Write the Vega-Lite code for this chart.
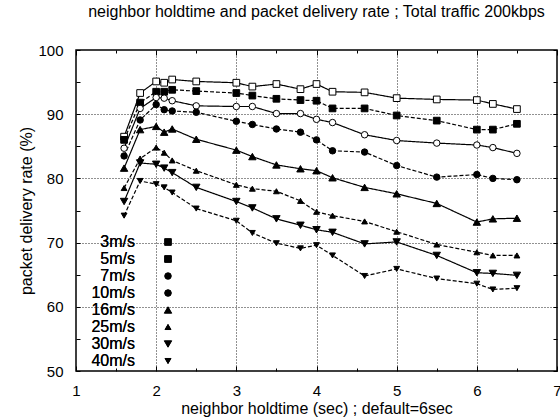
{
  "$schema": "https://vega.github.io/schema/vega-lite/v6.json",
  "autosize": {"type": "none"},
  "padding": {"left": 76, "top": 50, "right": 3, "bottom": 46},
  "width": 481,
  "height": 321,
  "background": "white",
  "title": {"text": "neighbor holdtime and packet delivery rate ; Total traffic 200kbps", "font": "Liberation Sans", "fontSize": 16, "fontWeight": "normal", "color": "black", "anchor": "middle", "frame": "group", "offset": 23},
  "config": {
    "view": {"stroke": "black", "strokeWidth": 1.5},
    "axis": {"labelFont": "Liberation Sans", "titleFont": "Liberation Sans", "labelColor": "black", "titleColor": "black", "tickColor": "black", "titleFontWeight": "normal"}
  },
  "data": {"values": [
    {"speed":"3m/s","holdtime":1.6,"pdr":86.5},{"speed":"3m/s","holdtime":1.8,"pdr":93.3},{"speed":"3m/s","holdtime":2.0,"pdr":95.1},{"speed":"3m/s","holdtime":2.1,"pdr":94.9},{"speed":"3m/s","holdtime":2.2,"pdr":95.4},{"speed":"3m/s","holdtime":2.5,"pdr":95.1},{"speed":"3m/s","holdtime":3.0,"pdr":94.9},{"speed":"3m/s","holdtime":3.2,"pdr":94.3},{"speed":"3m/s","holdtime":3.5,"pdr":94.7},{"speed":"3m/s","holdtime":3.8,"pdr":93.9},{"speed":"3m/s","holdtime":4.0,"pdr":94.7},{"speed":"3m/s","holdtime":4.2,"pdr":93.5},{"speed":"3m/s","holdtime":4.6,"pdr":93.4},{"speed":"3m/s","holdtime":5.0,"pdr":92.5},{"speed":"3m/s","holdtime":5.5,"pdr":92.3},{"speed":"3m/s","holdtime":6.0,"pdr":92.2},{"speed":"3m/s","holdtime":6.2,"pdr":91.6},{"speed":"3m/s","holdtime":6.5,"pdr":90.8},
    {"speed":"5m/s","holdtime":1.6,"pdr":86.0},{"speed":"5m/s","holdtime":1.8,"pdr":91.8},{"speed":"5m/s","holdtime":2.0,"pdr":93.5},{"speed":"5m/s","holdtime":2.1,"pdr":93.5},{"speed":"5m/s","holdtime":2.2,"pdr":93.8},{"speed":"5m/s","holdtime":2.5,"pdr":93.6},{"speed":"5m/s","holdtime":3.0,"pdr":93.3},{"speed":"5m/s","holdtime":3.2,"pdr":92.9},{"speed":"5m/s","holdtime":3.5,"pdr":92.4},{"speed":"5m/s","holdtime":3.8,"pdr":92.2},{"speed":"5m/s","holdtime":4.0,"pdr":92.1},{"speed":"5m/s","holdtime":4.2,"pdr":90.9},{"speed":"5m/s","holdtime":4.6,"pdr":90.9},{"speed":"5m/s","holdtime":5.0,"pdr":89.8},{"speed":"5m/s","holdtime":5.5,"pdr":89.0},{"speed":"5m/s","holdtime":6.0,"pdr":87.6},{"speed":"5m/s","holdtime":6.2,"pdr":87.6},{"speed":"5m/s","holdtime":6.5,"pdr":88.5},
    {"speed":"7m/s","holdtime":1.6,"pdr":84.7},{"speed":"7m/s","holdtime":1.8,"pdr":90.9},{"speed":"7m/s","holdtime":2.0,"pdr":92.6},{"speed":"7m/s","holdtime":2.1,"pdr":92.5},{"speed":"7m/s","holdtime":2.2,"pdr":92.1},{"speed":"7m/s","holdtime":2.5,"pdr":91.3},{"speed":"7m/s","holdtime":3.0,"pdr":91.2},{"speed":"7m/s","holdtime":3.2,"pdr":91.2},{"speed":"7m/s","holdtime":3.5,"pdr":90.1},{"speed":"7m/s","holdtime":3.8,"pdr":90.1},{"speed":"7m/s","holdtime":4.0,"pdr":89.2},{"speed":"7m/s","holdtime":4.2,"pdr":88.7},{"speed":"7m/s","holdtime":4.6,"pdr":86.8},{"speed":"7m/s","holdtime":5.0,"pdr":85.9},{"speed":"7m/s","holdtime":5.5,"pdr":85.5},{"speed":"7m/s","holdtime":6.0,"pdr":85.2},{"speed":"7m/s","holdtime":6.2,"pdr":84.8},{"speed":"7m/s","holdtime":6.5,"pdr":83.9},
    {"speed":"10m/s","holdtime":1.6,"pdr":83.5},{"speed":"10m/s","holdtime":1.8,"pdr":89.1},{"speed":"10m/s","holdtime":2.0,"pdr":91.5},{"speed":"10m/s","holdtime":2.1,"pdr":90.7},{"speed":"10m/s","holdtime":2.2,"pdr":90.5},{"speed":"10m/s","holdtime":2.5,"pdr":90.3},{"speed":"10m/s","holdtime":3.0,"pdr":88.9},{"speed":"10m/s","holdtime":3.2,"pdr":88.4},{"speed":"10m/s","holdtime":3.5,"pdr":87.7},{"speed":"10m/s","holdtime":3.8,"pdr":87.2},{"speed":"10m/s","holdtime":4.0,"pdr":86.0},{"speed":"10m/s","holdtime":4.2,"pdr":84.3},{"speed":"10m/s","holdtime":4.6,"pdr":84.1},{"speed":"10m/s","holdtime":5.0,"pdr":82.0},{"speed":"10m/s","holdtime":5.5,"pdr":80.2},{"speed":"10m/s","holdtime":6.0,"pdr":80.6},{"speed":"10m/s","holdtime":6.2,"pdr":80.0},{"speed":"10m/s","holdtime":6.5,"pdr":79.8},
    {"speed":"16m/s","holdtime":1.6,"pdr":81.6},{"speed":"16m/s","holdtime":1.8,"pdr":87.6},{"speed":"16m/s","holdtime":2.0,"pdr":88.1},{"speed":"16m/s","holdtime":2.1,"pdr":87.2},{"speed":"16m/s","holdtime":2.2,"pdr":87.7},{"speed":"16m/s","holdtime":2.5,"pdr":86.1},{"speed":"16m/s","holdtime":3.0,"pdr":84.4},{"speed":"16m/s","holdtime":3.2,"pdr":83.4},{"speed":"16m/s","holdtime":3.5,"pdr":82.1},{"speed":"16m/s","holdtime":3.8,"pdr":81.5},{"speed":"16m/s","holdtime":4.0,"pdr":81.2},{"speed":"16m/s","holdtime":4.2,"pdr":80.1},{"speed":"16m/s","holdtime":4.6,"pdr":78.6},{"speed":"16m/s","holdtime":5.0,"pdr":77.6},{"speed":"16m/s","holdtime":5.5,"pdr":76.1},{"speed":"16m/s","holdtime":6.0,"pdr":73.2},{"speed":"16m/s","holdtime":6.2,"pdr":73.7},{"speed":"16m/s","holdtime":6.5,"pdr":73.8},
    {"speed":"25m/s","holdtime":1.6,"pdr":78.5},{"speed":"25m/s","holdtime":1.8,"pdr":83.1},{"speed":"25m/s","holdtime":2.0,"pdr":84.8},{"speed":"25m/s","holdtime":2.1,"pdr":84.0},{"speed":"25m/s","holdtime":2.2,"pdr":82.8},{"speed":"25m/s","holdtime":2.5,"pdr":81.2},{"speed":"25m/s","holdtime":3.0,"pdr":79.0},{"speed":"25m/s","holdtime":3.2,"pdr":78.4},{"speed":"25m/s","holdtime":3.5,"pdr":78.0},{"speed":"25m/s","holdtime":3.8,"pdr":76.5},{"speed":"25m/s","holdtime":4.0,"pdr":74.8},{"speed":"25m/s","holdtime":4.2,"pdr":74.2},{"speed":"25m/s","holdtime":4.6,"pdr":73.3},{"speed":"25m/s","holdtime":5.0,"pdr":71.7},{"speed":"25m/s","holdtime":5.5,"pdr":69.7},{"speed":"25m/s","holdtime":6.0,"pdr":68.5},{"speed":"25m/s","holdtime":6.2,"pdr":68.0},{"speed":"25m/s","holdtime":6.5,"pdr":68.0},
    {"speed":"30m/s","holdtime":1.6,"pdr":76.4},{"speed":"30m/s","holdtime":1.8,"pdr":82.4},{"speed":"30m/s","holdtime":2.0,"pdr":82.2},{"speed":"30m/s","holdtime":2.1,"pdr":81.6},{"speed":"30m/s","holdtime":2.2,"pdr":80.9},{"speed":"30m/s","holdtime":2.5,"pdr":78.6},{"speed":"30m/s","holdtime":3.0,"pdr":76.4},{"speed":"30m/s","holdtime":3.2,"pdr":75.4},{"speed":"30m/s","holdtime":3.5,"pdr":73.7},{"speed":"30m/s","holdtime":3.8,"pdr":72.7},{"speed":"30m/s","holdtime":4.0,"pdr":72.0},{"speed":"30m/s","holdtime":4.2,"pdr":71.6},{"speed":"30m/s","holdtime":4.6,"pdr":69.8},{"speed":"30m/s","holdtime":5.0,"pdr":70.1},{"speed":"30m/s","holdtime":5.5,"pdr":68.0},{"speed":"30m/s","holdtime":6.0,"pdr":65.3},{"speed":"30m/s","holdtime":6.2,"pdr":65.2},{"speed":"30m/s","holdtime":6.5,"pdr":64.9},
    {"speed":"40m/s","holdtime":1.6,"pdr":74.2},{"speed":"40m/s","holdtime":1.8,"pdr":79.6},{"speed":"40m/s","holdtime":2.0,"pdr":79.1},{"speed":"40m/s","holdtime":2.1,"pdr":78.6},{"speed":"40m/s","holdtime":2.2,"pdr":77.8},{"speed":"40m/s","holdtime":2.5,"pdr":75.3},{"speed":"40m/s","holdtime":3.0,"pdr":73.4},{"speed":"40m/s","holdtime":3.2,"pdr":71.5},{"speed":"40m/s","holdtime":3.5,"pdr":69.9},{"speed":"40m/s","holdtime":3.8,"pdr":69.1},{"speed":"40m/s","holdtime":4.0,"pdr":69.6},{"speed":"40m/s","holdtime":4.2,"pdr":68.0},{"speed":"40m/s","holdtime":4.6,"pdr":64.8},{"speed":"40m/s","holdtime":5.0,"pdr":65.9},{"speed":"40m/s","holdtime":5.5,"pdr":64.4},{"speed":"40m/s","holdtime":6.0,"pdr":63.6},{"speed":"40m/s","holdtime":6.2,"pdr":62.7},{"speed":"40m/s","holdtime":6.5,"pdr":62.9}
  ]},
  "resolve": {"axis": {"x": "independent", "y": "independent"}},
  "layer": [
    {
      "mark": {"type": "line", "color": "black", "strokeWidth": 1.2},
      "encoding": {
        "x": {"field": "holdtime", "type": "quantitative", "scale": {"domain": [1, 7], "nice": false, "zero": false},
          "axis": {"orient": "bottom", "values": [1,1.5,2,2.5,3,3.5,4,4.5,5,5.5,6,6.5,7], "labelExpr": "datum.value % 1 === 0 ? format(datum.value, 'd') : ''", "labelFontSize": 15, "labelFlush": false, "labelOverlap": false, "labelPadding": 17, "domain": false,
            "tickSize": {"condition": {"test": "datum.value % 1 === 0", "value": -5}, "value": -3}, "tickWidth": 1,
            "grid": true, "gridColor": "#222", "gridDash": [1, 2], "gridWidth": 1, "gridOpacity": {"condition": {"test": "datum.value % 1 === 0 && datum.value > 1 && datum.value < 7", "value": 1}, "value": 0},
            "title": "neighbor holdtime (sec) ; default=6sec", "titleFontSize": 16, "titlePadding": 0}},
        "y": {"field": "pdr", "type": "quantitative", "scale": {"domain": [50, 100], "nice": false, "zero": false},
          "axis": {"orient": "left", "values": [50,55,60,65,70,75,80,85,90,95,100], "labelExpr": "datum.value % 10 === 0 ? format(datum.value, 'd') : ''", "labelFontSize": 15, "labelFlush": false, "labelOverlap": false, "labelPadding": 17, "domain": false,
            "tickSize": -4, "tickWidth": 1,
            "grid": true, "gridColor": "#222", "gridDash": [1, 2], "gridWidth": 1, "gridOpacity": {"condition": {"test": "datum.value % 10 === 0 && datum.value > 50 && datum.value < 100", "value": 1}, "value": 0},
            "title": "packet delivery rate (%)", "titleFontSize": 16, "titlePadding": 3}},
        "strokeDash": {"field": "speed", "type": "nominal", "scale": {"domain": ["3m/s","5m/s","7m/s","10m/s","16m/s","25m/s","30m/s","40m/s"], "range": [[1,0],[4,2],[1,0],[4,2],[1,0],[4,2],[1,0],[4,2]]},
          "legend": {"orient": "right", "offset": 300, "title": null, "labelExpr": "''", "symbolOpacity": 0}}
      }
    },
    {
      "mark": {"type": "point", "filled": true, "stroke": "black", "strokeWidth": 1, "opacity": 1},
      "encoding": {
        "x": {"field": "holdtime", "type": "quantitative",
          "axis": {"orient": "top", "values": [1,1.5,2,2.5,3,3.5,4,4.5,5,5.5,6,6.5,7], "labels": false, "domain": false, "grid": false, "title": null,
            "tickSize": {"condition": {"test": "datum.value % 1 === 0", "value": -5}, "value": -3}}},
        "y": {"field": "pdr", "type": "quantitative",
          "axis": {"orient": "right", "values": [50,55,60,65,70,75,80,85,90,95,100], "labels": false, "domain": false, "grid": false, "title": null,
            "tickSize": -4}},
        "shape": {"field": "speed", "type": "nominal", "scale": {"domain": ["3m/s","5m/s","7m/s","10m/s","16m/s","25m/s","30m/s","40m/s"], "range": ["square","square","circle","circle","triangle-up","triangle-up","triangle-down","triangle-down"]},
          "legend": {"orient": "none", "legendX": 19, "legendY": 184, "title": null, "padding": 0, "rowPadding": 1, "labelAlign": "right", "labelOffset": -41, "symbolOffset": 65, "labelFont": "Liberation Sans", "labelFontSize": 16, "labelColor": "black", "symbolSize": 45, "symbolStrokeColor": "black", "symbolStrokeWidth": 1}},
        "color": {"field": "speed", "type": "nominal", "scale": {"domain": ["3m/s","5m/s","7m/s","10m/s","16m/s","25m/s","30m/s","40m/s"], "range": ["white","black","white","black","black","black","black","black"]},
          "legend": {"orient": "none", "legendX": 19, "legendY": 184, "title": null, "padding": 0, "rowPadding": 1, "labelAlign": "right", "labelOffset": -41, "symbolOffset": 65, "labelFont": "Liberation Sans", "labelFontSize": 16, "labelColor": "black", "symbolSize": 45, "symbolStrokeColor": "black", "symbolStrokeWidth": 1}},
        "size": {"field": "speed", "type": "nominal", "scale": {"type": "ordinal", "domain": ["3m/s","5m/s","7m/s","10m/s","16m/s","25m/s","30m/s","40m/s"], "range": [45,45,42,42,55,34,55,34]}, "legend": null}
      }
    }
  ]
}
